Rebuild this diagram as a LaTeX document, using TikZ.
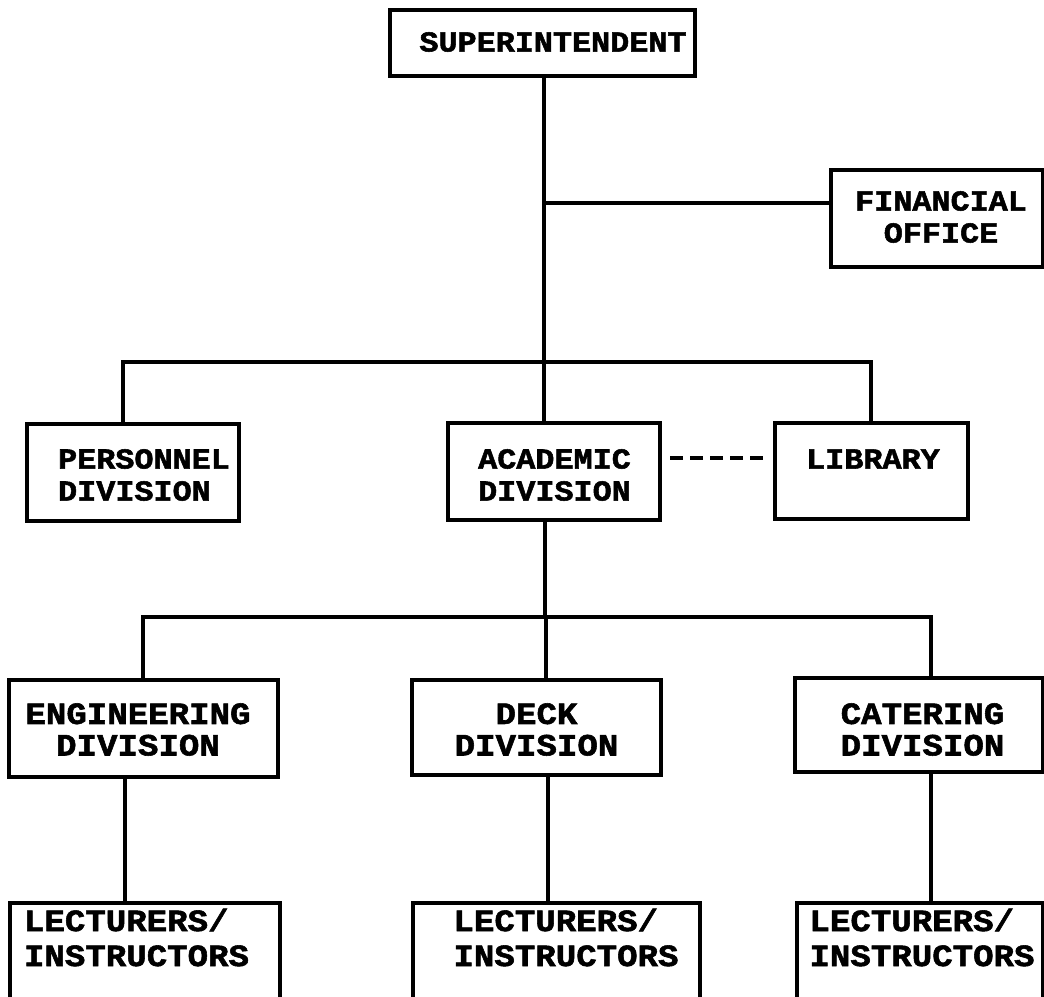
\documentclass[tikz,border=0pt]{standalone}
\usepackage{fontspec}
\newfontfamily\tw{Liberation Mono}[FakeStretch=1.1,BoldFeatures={FakeBold=1.8}]
\begin{document}
\begin{tikzpicture}[x=1pt,y=-1pt,line width=3.2pt,
  box/.style={draw,rectangle,inner sep=0pt,outer sep=0pt},
  up/.style={font=\tw\bfseries\fontsize{28.9}{32}\selectfont,inner sep=0pt},
  lo/.style={font=\tw\bfseries\fontsize{31}{31.5}\selectfont,inner sep=0pt},
  lec/.style={font=\tw\bfseries\fontsize{31}{35}\selectfont,inner sep=0pt,align=left},
  dashline/.style={line width=4.5pt,dash pattern=on 13pt off 7pt}]
\useasboundingbox (0,0) rectangle (1044,996);
\clip (0,0) rectangle (1044,996);
% boxes
\node[box,minimum width=305pt,minimum height=66pt] (sup) at (542.5,43) {};
\node[box,minimum width=212pt,minimum height=97pt] (fin) at (937,218.5) {};
\node[box,minimum width=212pt,minimum height=97pt] (pers) at (133,472.5) {};
\node[box,minimum width=212pt,minimum height=97pt] (acad) at (554,471.5) {};
\node[box,minimum width=193pt,minimum height=96pt] (lib) at (871.5,471) {};
\node[box,minimum width=269pt,minimum height=97pt] (eng) at (143.5,728.5) {};
\node[box,minimum width=249pt,minimum height=95pt] (deck) at (536.5,727.5) {};
\node[box,minimum width=248pt,minimum height=94pt] (cat) at (919,725) {};
\node[box,minimum width=270pt,minimum height=107pt] (lec1) at (145,956.5) {};
\node[box,minimum width=287pt,minimum height=107pt] (lec2) at (556.5,956.5) {};
\node[box,minimum width=246pt,minimum height=107pt] (lec3) at (920,956.5) {};
% texts
\node[up] (tsup) at (553,42) {SUPERINTENDENT};
\node[up,align=center] (tfin) at (941,217) {FINANCIAL\\OFFICE};
\node[up,align=left] (tpers) at (144,475) {PERSONNEL\\DIVISION};
\node[up,align=left] (tacad) at (554.5,475) {ACADEMIC\\DIVISION};
\node[up] (tlib) at (873,459) {LIBRARY};
\node[lo,align=center] (teng) at (138,729.5) {ENGINEERING\\DIVISION};
\node[lo,align=center] (tdeck) at (536.5,729.5) {DECK\\DIVISION};
\node[lo,align=center] (tcat) at (922.5,729.5) {CATERING\\DIVISION};
\node[lec] (tl1) at (136.5,937.5) {LECTURERS/\\INSTRUCTORS};
\node[lec] (tl2) at (566,937.5) {LECTURERS/\\INSTRUCTORS};
\node[lec] (tl3) at (922,937.5) {LECTURERS/\\INSTRUCTORS};
% junction coordinates
\coordinate (t1) at (544,362);
\coordinate (bl) at (123,362);
\coordinate (br) at (871,362);
\coordinate (fj) at (544,203);
\coordinate (t2) at (545,617);
\coordinate (b2l) at (143,617);
\coordinate (b2r) at (931,617);
\coordinate (t3) at (546,617);
\coordinate (v1) at (125,0);
\coordinate (v2) at (548,0);
\coordinate (v3) at (931,0);
\coordinate (dy) at (0,458);
% connectors
\draw (sup.south -| t1) -- (t1);
\draw (fj) -- (fj -| fin.west);
\draw (pers.north -| bl) -- (bl) -- (br) -- (lib.north -| br);
\draw (t1) -- (acad.north -| t1);
\draw[dashline,shorten <=10pt,shorten >=12pt] (acad.east |- dy) -- (lib.west |- dy);
\draw (acad.south -| t2) -- (t2);
\draw (eng.north -| b2l) -- (b2l) -- (b2r) -- (cat.north -| b2r);
\draw (t3) -- (deck.north -| t3);
\draw (eng.south -| v1) -- (lec1.north -| v1);
\draw (deck.south -| v2) -- (lec2.north -| v2);
\draw (cat.south -| v3) -- (lec3.north -| v3);
\end{tikzpicture}
\end{document}
